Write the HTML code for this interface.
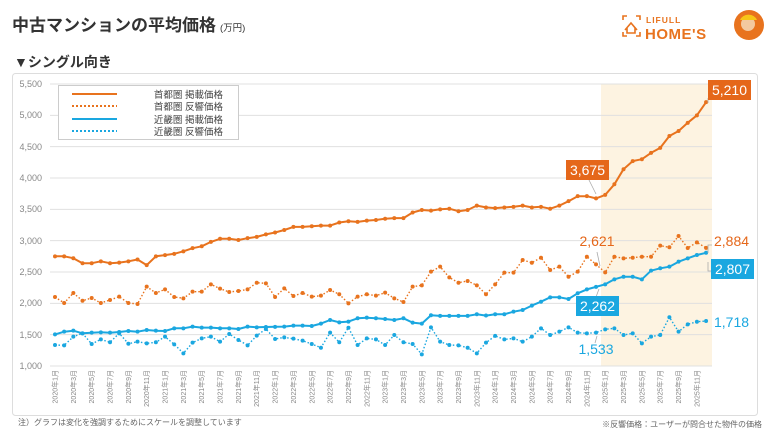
<!DOCTYPE html>
<html><head><meta charset="utf-8"><style>
body{margin:0;background:#fff;}
svg{display:block;font-family:"Liberation Sans","Noto Sans CJK JP",sans-serif;}
</style></head><body>
<svg id="s" width="770" height="433" viewBox="0 0 770 433" xmlns="http://www.w3.org/2000/svg">
<text x="12" y="31" font-size="17" font-weight="bold" fill="#333">中古マンションの平均価格<tspan font-size="9.5" font-weight="normal" dx="4">(万円)</tspan></text>
<text x="14" y="67" font-size="14" font-weight="bold" fill="#333">▼シングル向き</text>
<!-- logo -->
<g stroke="#e8731e" stroke-width="1.6" fill="none">
<path d="M623 20v-4h4M636 16h4v4M623 32v4h4M640 32v4h-4"/>
<path d="M625 30l6-7 6 7M627 28v5h8v-5"/>
</g>
<text x="646" y="23" font-size="8.5" font-weight="bold" fill="#e8731e" letter-spacing="1">LIFULL</text>
<text x="645" y="39" font-size="15" font-weight="bold" fill="#e8731e" letter-spacing="0.5">HOME'S</text>
<circle cx="749" cy="25" r="15" fill="#e8731e"/>
<circle cx="748" cy="24" r="7" fill="#f3c9a0"/>
<path d="M740 20a9 8 0 0 1 17 0z" fill="#f7c518"/>
<rect x="12.5" y="73.5" width="745" height="342" rx="3" fill="#fff" stroke="#ddd"/>
<rect x="601" y="84" width="111" height="282" fill="#fdf3e1"/>
<g id="grid" stroke="#e0e0e0" stroke-width="1"></g>
<g font-size="9" fill="#888" text-anchor="end">
<text x="42" y="87">5,500</text><text x="42" y="118">5,000</text><text x="42" y="150">4,500</text><text x="42" y="181">4,000</text><text x="42" y="212">3,500</text><text x="42" y="244">3,000</text><text x="42" y="275">2,500</text><text x="42" y="306">2,000</text><text x="42" y="338">1,500</text><text x="42" y="369">1,000</text>
</g>
<g id="series"></g>
<rect x="58.5" y="85.5" width="180" height="54" fill="#fff" stroke="#ccc"/>
<line x1="72" y1="94" x2="117" y2="94" stroke="#e8731e" stroke-width="2"/>
<line x1="72" y1="106" x2="117" y2="106" stroke="#e8731e" stroke-width="2" stroke-dasharray="2,2"/>
<line x1="72" y1="119" x2="117" y2="119" stroke="#1aa7e0" stroke-width="2"/>
<line x1="72" y1="131" x2="117" y2="131" stroke="#1aa7e0" stroke-width="2" stroke-dasharray="2,2"/>
<g font-size="9.5" fill="#444" text-anchor="end">
<text x="223" y="98">首都圏 掲載価格</text><text x="223" y="110">首都圏 反響価格</text><text x="223" y="123">近畿圏 掲載価格</text><text x="223" y="135">近畿圏 反響価格</text>
</g>
<g id="xl" font-size="7" fill="#888" text-anchor="end">
<text transform="translate(57.5,370) rotate(-90)">2020年1月</text>
<text transform="translate(75.8,370) rotate(-90)">2020年3月</text>
<text transform="translate(94.2,370) rotate(-90)">2020年5月</text>
<text transform="translate(112.5,370) rotate(-90)">2020年7月</text>
<text transform="translate(130.9,370) rotate(-90)">2020年9月</text>
<text transform="translate(149.2,370) rotate(-90)">2020年11月</text>
<text transform="translate(167.5,370) rotate(-90)">2021年1月</text>
<text transform="translate(185.9,370) rotate(-90)">2021年3月</text>
<text transform="translate(204.2,370) rotate(-90)">2021年5月</text>
<text transform="translate(222.6,370) rotate(-90)">2021年7月</text>
<text transform="translate(240.9,370) rotate(-90)">2021年9月</text>
<text transform="translate(259.2,370) rotate(-90)">2021年11月</text>
<text transform="translate(277.6,370) rotate(-90)">2022年1月</text>
<text transform="translate(295.9,370) rotate(-90)">2022年3月</text>
<text transform="translate(314.3,370) rotate(-90)">2022年5月</text>
<text transform="translate(332.6,370) rotate(-90)">2022年7月</text>
<text transform="translate(350.9,370) rotate(-90)">2022年9月</text>
<text transform="translate(369.3,370) rotate(-90)">2022年11月</text>
<text transform="translate(387.6,370) rotate(-90)">2023年1月</text>
<text transform="translate(406.0,370) rotate(-90)">2023年3月</text>
<text transform="translate(424.3,370) rotate(-90)">2023年5月</text>
<text transform="translate(442.6,370) rotate(-90)">2023年7月</text>
<text transform="translate(461.0,370) rotate(-90)">2023年9月</text>
<text transform="translate(479.3,370) rotate(-90)">2023年11月</text>
<text transform="translate(497.7,370) rotate(-90)">2024年1月</text>
<text transform="translate(516.0,370) rotate(-90)">2024年3月</text>
<text transform="translate(534.3,370) rotate(-90)">2024年5月</text>
<text transform="translate(552.7,370) rotate(-90)">2024年7月</text>
<text transform="translate(571.0,370) rotate(-90)">2024年9月</text>
<text transform="translate(589.4,370) rotate(-90)">2024年11月</text>
<text transform="translate(607.7,370) rotate(-90)">2025年1月</text>
<text transform="translate(626.0,370) rotate(-90)">2025年3月</text>
<text transform="translate(644.4,370) rotate(-90)">2025年5月</text>
<text transform="translate(662.7,370) rotate(-90)">2025年7月</text>
<text transform="translate(681.1,370) rotate(-90)">2025年9月</text>
<text transform="translate(699.4,370) rotate(-90)">2025年11月</text>
</g>
<!-- annotations -->
<g stroke="#aaa" stroke-width="0.8" fill="none">
<path d="M708 98v5"/><path d="M588 178l8 16"/><path d="M597 252l3 14"/><path d="M708 253v-8l4 0"/><path d="M708 262v9h4"/><path d="M596 297l3-8"/><path d="M595 343l2-7"/>
</g>
<rect x="708" y="80" width="43" height="20" fill="#e5671a"/>
<text x="729.5" y="95" font-size="14" fill="#fff" text-anchor="middle">5,210</text>
<rect x="566" y="160" width="43" height="20" fill="#e5671a"/>
<text x="587.5" y="175" font-size="14" fill="#fff" text-anchor="middle">3,675</text>
<text x="597" y="246" font-size="14" fill="#e5671a" text-anchor="middle">2,621</text>
<text x="714" y="246" font-size="14" fill="#e5671a">2,884</text>
<rect x="711" y="259" width="43" height="20" fill="#1aa7e0"/>
<text x="732.5" y="274" font-size="14" fill="#fff" text-anchor="middle">2,807</text>
<rect x="576" y="296" width="43" height="20" fill="#1aa7e0"/>
<text x="597.5" y="311" font-size="14" fill="#fff" text-anchor="middle">2,262</text>
<text x="714" y="327" font-size="14" fill="#1aa7e0">1,718</text>
<text x="596" y="354" font-size="14" fill="#1aa7e0" text-anchor="middle">1,533</text>
<text x="18" y="425" font-size="8" fill="#666">注）グラフは変化を強調するためにスケールを調整しています</text>
<text x="762" y="427" font-size="8" fill="#666" text-anchor="end">※反響価格：ユーザーが問合せた物件の価格</text>
</svg>
<script>
(function(){
var NS="http://www.w3.org/2000/svg";
function Y(v){return 366-(v-1000)*0.06267;}
function X(i){return 55+9.17*i;}
var g=document.getElementById('grid');
for(var v=1000;v<=5500;v+=500){var l=document.createElementNS(NS,'line');l.setAttribute('x1',50);l.setAttribute('x2',712);l.setAttribute('y1',Y(v));l.setAttribute('y2',Y(v));g.appendChild(l);}
var TL=[2750,2750,2720,2640,2640,2670,2640,2650,2670,2700,2610,2750,2770,2790,2830,2880,2910,2980,3030,3030,3010,3040,3060,3100,3130,3170,3220,3220,3230,3240,3240,3290,3310,3300,3320,3330,3350,3360,3360,3450,3490,3480,3500,3510,3470,3490,3560,3530,3520,3530,3540,3560,3530,3540,3510,3560,3630,3710,3710,3675,3730,3900,4140,4270,4300,4400,4480,4670,4750,4880,5000,5210];
var TR=[2101,2005,2165,2042,2085,2005,2053,2106,2005,1990,2266,2165,2223,2101,2080,2186,2186,2303,2234,2180,2196,2223,2329,2319,2101,2239,2117,2165,2106,2122,2212,2144,2000,2106,2144,2122,2170,2080,2021,2266,2287,2505,2585,2414,2329,2356,2287,2144,2303,2489,2489,2691,2648,2728,2532,2585,2425,2505,2744,2621,2494,2744,2718,2728,2744,2744,2920,2894,3074,2883,2973,2884];
var KL=[1505,1548,1564,1521,1532,1537,1532,1543,1559,1548,1574,1564,1559,1601,1601,1628,1612,1612,1601,1601,1590,1628,1617,1622,1625,1628,1644,1644,1638,1676,1734,1697,1708,1761,1771,1761,1750,1734,1761,1692,1676,1809,1800,1800,1800,1800,1825,1805,1825,1825,1867,1894,1963,2026,2096,2096,2069,2160,2223,2262,2303,2383,2425,2425,2383,2521,2559,2585,2665,2718,2771,2807];
var KR=[1335,1330,1468,1521,1351,1425,1378,1521,1356,1388,1362,1378,1468,1346,1202,1372,1441,1468,1388,1510,1415,1330,1484,1590,1431,1457,1436,1404,1351,1292,1532,1378,1611,1335,1441,1425,1335,1494,1378,1351,1186,1617,1388,1335,1330,1292,1202,1372,1480,1425,1441,1388,1468,1601,1494,1548,1617,1532,1521,1533,1585,1601,1494,1521,1362,1468,1494,1777,1548,1665,1707,1718];
var s=document.getElementById('series');
function draw(d,c,dash){var p=d.map(function(v,i){return X(i).toFixed(1)+','+Y(v).toFixed(1);}).join(' ');
var pl=document.createElementNS(NS,'polyline');pl.setAttribute('points',p);pl.setAttribute('fill','none');pl.setAttribute('stroke',c);pl.setAttribute('stroke-width',dash?1.4:2);pl.setAttribute('stroke-linejoin','round');if(dash)pl.setAttribute('stroke-dasharray','1.5,2');s.appendChild(pl);
d.forEach(function(v,i){var ci=document.createElementNS(NS,'circle');ci.setAttribute('cx',X(i));ci.setAttribute('cy',Y(v));ci.setAttribute('r',2);ci.setAttribute('fill',c);s.appendChild(ci);});}
draw(TR,'#e8731e',1);draw(KR,'#1aa7e0',1);draw(TL,'#e8731e',0);draw(KL,'#1aa7e0',0);
})();
</script>
</body></html>
